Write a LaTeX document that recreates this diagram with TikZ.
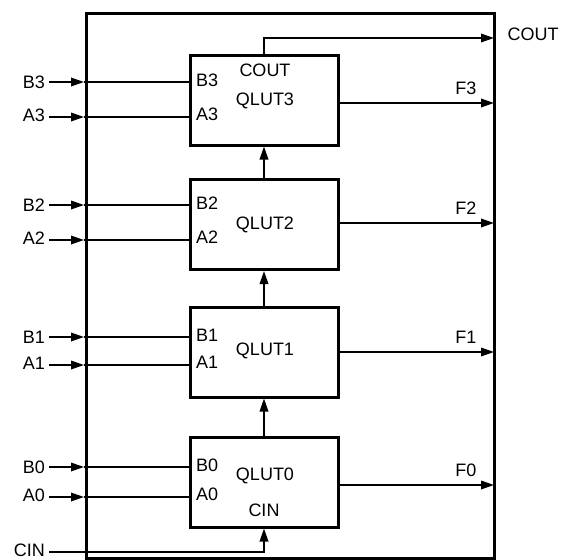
\documentclass[tikz,border=0pt]{standalone}
\usepackage{fontspec}
\setmainfont{Liberation Sans}
\usetikzlibrary{arrows.meta,calc,positioning}

\begin{document}
\begin{tikzpicture}[x=1pt,y=-1pt,>={Triangle[length=13pt,width=8.5pt]},
  font=\fontsize{18}{21}\selectfont,
  lut/.style={draw,line width=3pt,minimum width=148pt,minimum height=90pt,inner sep=0pt},
  wire/.style={line width=1.8pt},
  pin/.style={anchor=west,inner sep=0pt}]
  \useasboundingbox (0,0) rectangle (566,560);
  % outer frame
  \draw[line width=3pt] (86,13) rectangle (494,558);
  % four stages: index / box centre / QLUT text / B pin / A pin / F out
  \foreach \i/\yc/\yq/\yb/\ya/\yf in {3/100/101/82/117/103,2/224.5/225/205/240/223,1/352/351/337/365/352,0/482/476/467/497/485} {
    \node[lut] (q\i) at (264,\yc) {};
    \node (t\i) at (265,\yq) {QLUT\i};
    \node[pin] (pb\i) at (196,\yb-1.5) {B\i};
    \node[pin] (pa\i) at (196,\ya-2.5) {A\i};
    \node[anchor=east,inner sep=0pt] (inb\i) at (45,\yb) {B\i};
    \node[anchor=east,inner sep=0pt] (ina\i) at (45,\ya-2) {A\i};
    \coordinate (fb\i) at (84,\yb);
    \coordinate (fa\i) at (84,\ya);
    \draw[->,wire] ($(inb\i.east)+(4,0)$) -- (fb\i);
    \draw[->,wire] (ina\i.east |- fa\i) ++(4,0) -- (fa\i);
    \draw[wire] (fb\i) -- (q\i.west |- fb\i);
    \draw[wire] (fa\i) -- (q\i.west |- fa\i);
    \coordinate (fo\i) at (494,\yf);
    \draw[->,wire] (q\i.east |- fo\i) -- (fo\i);
    \node (lf\i) at (466,\yf-15) {F\i};
  }
  % carry chain
  \node (tco) at (265,70) {COUT};
  \node (tci) at (264,510) {CIN};
  \draw[->,wire] (q0.north) -- (q1.south);
  \draw[->,wire] (q1.north) -- (q2.south);
  \draw[->,wire] (q2.north) -- (q3.south);
  \coordinate (co) at (494,38);
  \draw[->,wire] (q3.north) |- (co);
  \node (lco) at (533,34) {COUT};
  \node[anchor=east,inner sep=0pt] (lci) at (45,550) {CIN};
  \coordinate (ci) at (49,552);
  \draw[->,wire] (ci) -| (q0.south);
\end{tikzpicture}
\end{document}
